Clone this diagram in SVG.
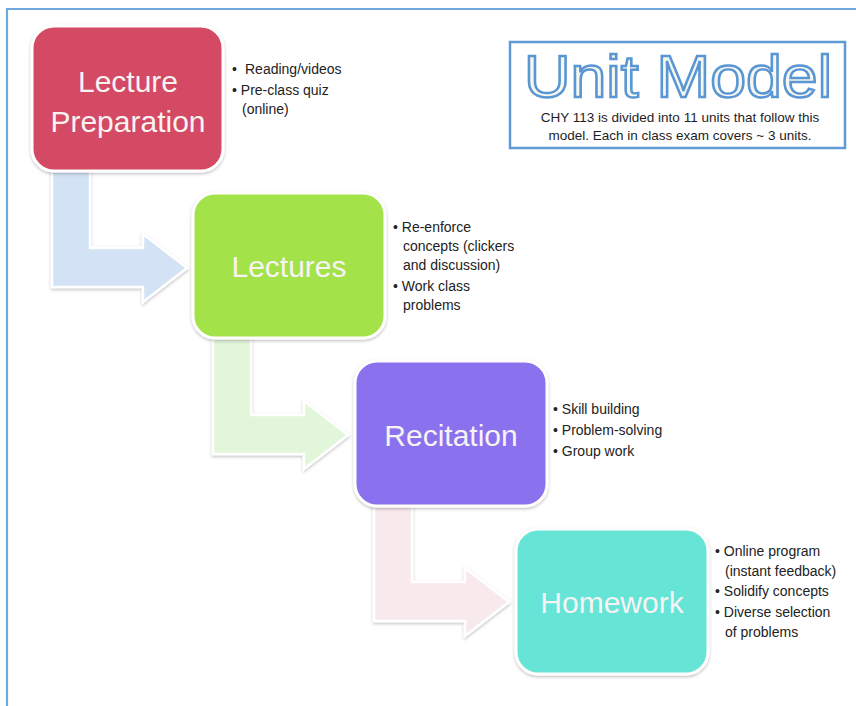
<svg xmlns="http://www.w3.org/2000/svg" width="856" height="706" viewBox="0 0 856 706">
  <defs>
    <filter id="soft" x="-10%" y="-10%" width="120%" height="125%">
      <feDropShadow dx="0" dy="1.5" stdDeviation="1.8" flood-color="#000" flood-opacity="0.25"/>
    </filter>
    <!-- bent arrow: drops down from a step, then turns right into the next one -->
    <path id="bend" d="M52,160 L90,160 L90,248 L143,248 L143,234 L187,268 L143,302 L143,287 L52,287 Z"/>
  </defs>
  <style>
    .frame { fill: none; stroke: #6fa7de; stroke-width: 2.2; }
    .step { stroke: #ffffff; stroke-width: 3; filter: url(#soft); }
    .arrow { stroke: #ffffff; stroke-width: 2.5; stroke-linejoin: miter; filter: url(#soft); }
    .title { font-family: "Liberation Sans", Arial, sans-serif; font-size: 30px; fill: #f7f3f3; text-anchor: middle; }
    .note { font-family: "Liberation Sans", Arial, sans-serif; font-size: 14px; fill: #222222; }
    .banner { fill: #ffffff; stroke: #5e9ad6; stroke-width: 2.5; }
    .big { font-family: "Liberation Sans", Arial, sans-serif; font-size: 60px; fill: #f6f7ee; stroke: #5a96d4; stroke-width: 2.4; text-anchor: middle; }
    .sub { font-family: "Liberation Sans", Arial, sans-serif; font-size: 13.5px; fill: #1e1e1e; text-anchor: middle; }
  </style>

  <rect width="856" height="706" fill="#ffffff"/>
  <path class="frame" d="M7,706 L7,9 L856,9"/>

  <!-- connectors -->
  <g id="connectors">
    <use href="#bend" class="arrow" fill="#d3e2f4"/>
    <use href="#bend" class="arrow" fill="#e2f6da" transform="translate(161,167)"/>
    <use href="#bend" class="arrow" fill="#f8e9ed" transform="translate(322,334)"/>
  </g>

  <!-- steps -->
  <g id="lecture-preparation">
    <rect class="step" x="32" y="26" width="191" height="145" rx="22" fill="#d44a63"/>
    <text class="title" x="128" y="92">Lecture</text>
    <text class="title" x="128" y="132">Preparation</text>
    <text class="note"><tspan x="232" y="74">•</tspan><tspan x="245" y="74">Reading/videos</tspan><tspan x="232" y="95">• Pre-class quiz</tspan><tspan x="242" y="114">(online)</tspan></text>
  </g>

  <g id="lectures">
    <rect class="step" x="193" y="193" width="192" height="145" rx="22" fill="#a4e24a"/>
    <text class="title" x="289" y="277">Lectures</text>
    <text class="note"><tspan x="393" y="232">• Re-enforce</tspan><tspan x="403" y="251">concepts (clickers</tspan><tspan x="403" y="270">and discussion)</tspan><tspan x="393" y="291">• Work class</tspan><tspan x="403" y="310">problems</tspan></text>
  </g>

  <g id="recitation">
    <rect class="step" x="355" y="361" width="192" height="145" rx="22" fill="#8a71ee"/>
    <text class="title" x="451" y="446">Recitation</text>
    <text class="note"><tspan x="553" y="414">• Skill building</tspan><tspan x="553" y="435">• Problem-solving</tspan><tspan x="553" y="456">• Group work</tspan></text>
  </g>

  <g id="homework">
    <rect class="step" x="516" y="529" width="192" height="145" rx="22" fill="#66e5d7"/>
    <text class="title" x="612" y="613">Homework</text>
    <text class="note"><tspan x="715" y="556">• Online program</tspan><tspan x="725" y="576">(instant feedback)</tspan><tspan x="715" y="596">• Solidify concepts</tspan><tspan x="715" y="617">• Diverse selection</tspan><tspan x="725" y="637">of problems</tspan></text>
  </g>

  <!-- heading panel -->
  <g id="unit-model">
    <rect class="banner" x="510" y="42" width="335" height="106"/>
    <text class="big" x="678" y="97" textLength="308" lengthAdjust="spacingAndGlyphs">Unit Model</text>
    <text class="sub" x="680" y="122">CHY 113 is divided into 11 units that follow this</text>
    <text class="sub" x="680" y="140">model. Each in class exam covers ~ 3 units.</text>
  </g>
</svg>
